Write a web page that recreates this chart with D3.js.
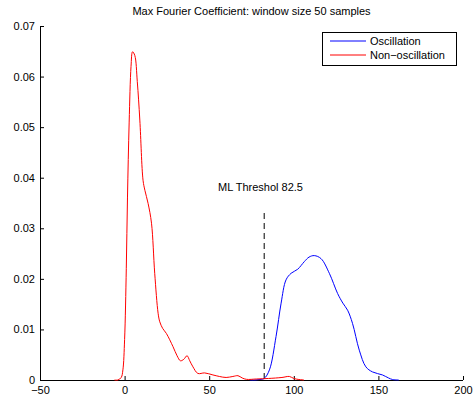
<!DOCTYPE html>
<html>
<script src="https://d3js.org/d3.v7.min.js"></script>
<style>
  body { margin: 0; background: #fff; }
  text { font-family: "Liberation Sans", Arial, sans-serif; }
</style>
<body>
<svg id="chart" width="476" height="405"></svg>

<script>
    // x values, density values
    const nonOscX = [-6, -4, -2, -1, 0, 1, 1.7, 2.7, 3.8, 4.7, 6, 7.5, 9, 10.9, 12, 13.9, 15.9, 17.8, 19.8, 20.8, 22.5, 24.7, 28.6, 31, 33, 35, 36.9, 38.5, 40.4, 43.3, 47.3, 52.2, 56, 60, 64, 67, 69.5, 72, 78, 85, 93, 97.4, 100, 103, 106];
    const nonOscY = [0, 0, 0.0005, 0.002, 0.008, 0.022, 0.036, 0.051, 0.062, 0.0649, 0.0642, 0.059, 0.0514, 0.0395, 0.0375, 0.0349, 0.031, 0.0211, 0.0132, 0.0115, 0.0102, 0.0092, 0.0066, 0.0048, 0.0038, 0.0041, 0.0048, 0.0038, 0.0026, 0.0013, 0.0014, 0.001, 0.0007, 0.0005, 0.0007, 0.00085, 0.0004, 0.00013, 0.0002, 0.0003, 0.0005, 0.0007, 0.0003, 0.0001, 0];
    const oscX = [74, 77, 80, 82.5, 85.6, 89.5, 92.5, 95.4, 98.4, 102.3, 106.2, 109, 112.1, 116.1, 121, 125.9, 129, 131.8, 134.7, 138.7, 142.6, 146.5, 152.4, 156, 158.3, 162];
    const oscY = [0, 0, 0.0001, 0.0003, 0.002, 0.0086, 0.0152, 0.0198, 0.0211, 0.0219, 0.0234, 0.0243, 0.0246, 0.024, 0.0211, 0.0171, 0.0152, 0.0138, 0.0112, 0.0059, 0.0026, 0.0016, 0.001, 0.0004, 0.0001, 0];
    const xTicks = [-50, 0, 50, 100, 150, 200];
    const yTicks = [0, 0.01, 0.02, 0.03, 0.04, 0.05, 0.06, 0.07];
    const threshold = 82.5;
    const seriesNames = ["Oscillation", "Non\u2212oscillation"];
    const seriesColors = ["#0000ff", "#ff0000"];

    const svg = d3.select("#chart");
    const mLeft = 40, mRight = 463, mTop = 26, mBottom = 380;

    const x = d3.scaleLinear().domain([-50, 200]).range([mLeft, mRight]);
    const y = d3.scaleLinear().domain([0, 0.07]).range([mBottom, mTop]);

    // title
    svg.append("text")
        .attr("x", (mLeft + mRight) / 2)
        .attr("y", 15)
        .attr("text-anchor", "middle")
        .attr("font-size", 11)
        .text("Max Fourier Coefficient: window size 50 samples");

    // axes, MATLAB style: ticks point inward
    const xAxis = svg.append("g")
        .attr("transform", `translate(0,${mBottom})`)
        .call(d3.axisBottom(x).tickValues(xTicks).tickSize(-4).tickPadding(7)
            .tickFormat(d => d < 0 ? "\u2212" + Math.abs(d) : d));
    const yAxis = svg.append("g")
        .attr("transform", `translate(${mLeft},0)`)
        .call(d3.axisLeft(y).tickValues(yTicks).tickSize(-4).tickPadding(5)
            .tickFormat(d => d === 0 ? "0" : d3.format(".2f")(d)));

    [xAxis, yAxis].forEach(a => {
        a.select(".domain").attr("stroke", "#000").attr("stroke-width", 1);
        a.selectAll("line").attr("stroke", "#000");
        a.selectAll("text").attr("font-size", 11).attr("fill", "#000")
            .attr("font-family", "Liberation Sans, Arial, sans-serif");
    });
    yAxis.selectAll("text").attr("x", -5);
    xAxis.selectAll("text").attr("dy", "0.71em").attr("y", 6);
    // plain axis lines without outer ends
    xAxis.select(".domain").attr("d", `M${mLeft},0.5H${mRight}`);
    yAxis.select(".domain").attr("d", `M0.5,${mBottom}V${mTop}`);

    const line = d3.line()
        .x(d => x(d[0]))
        .y(d => y(d[1]))
        .curve(d3.curveCatmullRom.alpha(0.5));

    // threshold
    svg.append("line")
        .attr("x1", x(threshold)).attr("x2", x(threshold))
        .attr("y1", 213).attr("y2", mBottom)
        .attr("stroke", "#000")
        .attr("stroke-width", 1)
        .attr("stroke-dasharray", "6,4");

    svg.append("text")
        .attr("x", 218)
        .attr("y", 191)
        .attr("font-size", 11)
        .text("ML Threshol " + threshold);

    const series = [
        d3.zip(oscX, oscY),
        d3.zip(nonOscX, nonOscY)
    ];

    svg.selectAll(".series")
        .data(series)
        .join("path")
        .attr("class", "series")
        .attr("d", line)
        .attr("fill", "none")
        .attr("stroke", (d, i) => seriesColors[i])
        .attr("stroke-width", 1);

    // legend
    const legend = svg.append("g");
    legend.append("rect")
        .attr("x", 322.5).attr("y", 32.5)
        .attr("width", 134).attr("height", 33)
        .attr("fill", "#fff").attr("stroke", "#000");
    seriesNames.forEach((name, i) => {
        const ly = 41 + i * 14;
        legend.append("line")
            .attr("x1", 330).attr("x2", 366)
            .attr("y1", ly).attr("y2", ly)
            .attr("stroke", seriesColors[i]);
        legend.append("text")
            .attr("x", 370).attr("y", ly + 4)
            .attr("font-size", 11)
            .text(name);
    });
</script>

</body>
</html>
